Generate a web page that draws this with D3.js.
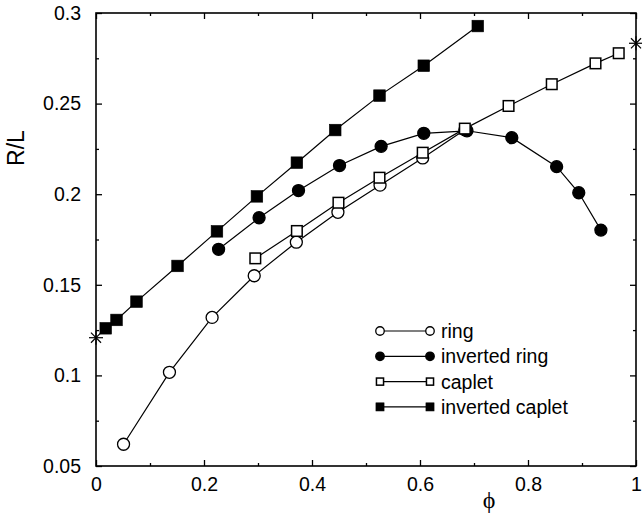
<!DOCTYPE html>
<html>
<head>
<meta charset="utf-8">
<script src="https://cdn.jsdelivr.net/npm/d3@7"></script>
<style>
  body { margin: 0; background: #fff; }
  svg { display: block; }
  .tick text { font-family: "Liberation Sans", Arial, sans-serif; }
</style>
</head>
<body>
<script>
// data
var ringPhi = [0.051, 0.136, 0.215, 0.293, 0.371, 0.448, 0.526, 0.605, 0.683];
var ringRL  = [0.062, 0.1017, 0.132, 0.155, 0.1735, 0.190, 0.205, 0.220, 0.2355];

var invRingPhi = [0.227, 0.302, 0.375, 0.451, 0.528, 0.607, 0.687, 0.770, 0.853, 0.894, 0.935];
var invRingRL  = [0.1696, 0.187, 0.202, 0.2158, 0.2264, 0.2336, 0.235, 0.2312, 0.2152, 0.2008, 0.1802];

var capletPhi = [0.295, 0.372, 0.449, 0.525, 0.605, 0.683, 0.764, 0.844, 0.925, 0.968];
var capletRL  = [0.1646, 0.1797, 0.1953, 0.2091, 0.2229, 0.2362, 0.2487, 0.2607, 0.2722, 0.2778];

var invCapletPhi = [0.018, 0.038, 0.075, 0.151, 0.224, 0.298, 0.372, 0.443, 0.525, 0.607, 0.707];
var invCapletRL  = [0.126, 0.1306, 0.1407, 0.1604, 0.1795, 0.1988, 0.2174, 0.2354, 0.2544, 0.2709, 0.2928];

var starPhi = [0, 1];
var starRL  = [0.1208, 0.2833];

var xTicks = [0, 0.2, 0.4, 0.6, 0.8, 1];
var xTickLabels = ["0", "0.2", "0.4", "0.6", "0.8", "1"];
var yTicks = [0.05, 0.1, 0.15, 0.2, 0.25, 0.3];
var yTickLabels = ["0.05", "0.1", "0.15", "0.2", "0.25", "0.3"];
var seriesNames = ["ring", "inverted ring", "caplet", "inverted caplet"];

var width = 642, height = 518;
var plotLeft = 96, plotRight = 636, plotTop = 13, plotBottom = 466;

var svg = d3.select("body").append("svg")
    .attr("width", width)
    .attr("height", height);

var xScale = d3.scaleLinear().domain([0, 1]).range([plotLeft, plotRight]);
var yScale = d3.scaleLinear().domain([0.05, 0.3]).range([plotBottom, plotTop]);

var xMinor = d3.range(1, 10, 2).map(function(d) { return d / 10; });
var yMinor = d3.range(3, 12, 2).map(function(d) { return d * 0.025; });

function styleAxis(g) {
    g.select(".domain").remove();
    g.selectAll(".tick line").attr("stroke", "#000").attr("stroke-width", 1.3);
    g.selectAll(".tick text").attr("fill", "#000").style("font-size", "19.5px");
}

// bottom axis with labels
svg.append("g")
    .attr("transform", "translate(0," + plotBottom + ")")
    .call(d3.axisBottom(xScale).tickValues(xTicks).tickSize(-6).tickPadding(11)
        .tickFormat(function(d, i) { return xTickLabels[i]; }))
    .call(styleAxis);
svg.append("g")
    .attr("transform", "translate(0," + plotBottom + ")")
    .call(d3.axisBottom(xScale).tickValues(xMinor).tickSize(-3).tickFormat(""))
    .call(styleAxis);
// top axis ticks
svg.append("g")
    .attr("transform", "translate(0," + plotTop + ")")
    .call(d3.axisTop(xScale).tickValues(xTicks).tickSize(-6).tickFormat(""))
    .call(styleAxis);
svg.append("g")
    .attr("transform", "translate(0," + plotTop + ")")
    .call(d3.axisTop(xScale).tickValues(xMinor).tickSize(-3).tickFormat(""))
    .call(styleAxis);
// left axis with labels
svg.append("g")
    .attr("transform", "translate(" + plotLeft + ",0)")
    .call(d3.axisLeft(yScale).tickValues(yTicks).tickSize(-6).tickPadding(15)
        .tickFormat(function(d, i) { return yTickLabels[i]; }))
    .call(styleAxis);
svg.append("g")
    .attr("transform", "translate(" + plotLeft + ",0)")
    .call(d3.axisLeft(yScale).tickValues(yMinor).tickSize(-3).tickFormat(""))
    .call(styleAxis);
// right axis ticks
svg.append("g")
    .attr("transform", "translate(" + plotRight + ",0)")
    .call(d3.axisRight(yScale).tickValues(yTicks).tickSize(-6).tickFormat(""))
    .call(styleAxis);
svg.append("g")
    .attr("transform", "translate(" + plotRight + ",0)")
    .call(d3.axisRight(yScale).tickValues(yMinor).tickSize(-3).tickFormat(""))
    .call(styleAxis);

// frame
svg.append("rect")
    .attr("x", plotLeft).attr("y", plotTop)
    .attr("width", plotRight - plotLeft).attr("height", plotBottom - plotTop)
    .attr("fill", "none").attr("stroke", "#000").attr("stroke-width", 1.6);

// axis titles
svg.append("text")
    .attr("transform", "translate(24,148) rotate(-90)")
    .attr("text-anchor", "middle")
    .style("font-family", "'Liberation Sans', Arial, sans-serif")
    .style("font-size", "23px")
    .text("R/L");

svg.append("text")
    .attr("x", 489).attr("y", 508)
    .attr("text-anchor", "middle")
    .style("font-family", "'Liberation Serif', 'Times New Roman', serif")
    .style("font-size", "24px")
    .text("\u03D5");

// markers
function drawMarker(g, type, x, y, s) {
    if (type === "ring" || type === "inverted ring") {
        g.append("circle")
            .attr("cx", x).attr("cy", y).attr("r", s / 2)
            .attr("fill", type === "ring" ? "#fff" : "#000")
            .attr("stroke", "#000").attr("stroke-width", 1.3);
    } else {
        var filled = type === "inverted caplet";
        var side = filled ? s - 0.4 : s - 1.4;
        g.append("rect")
            .attr("x", x - side / 2).attr("y", y - side / 2)
            .attr("width", side).attr("height", side)
            .attr("fill", filled ? "#000" : "#fff")
            .attr("stroke", "#000").attr("stroke-width", filled ? 0.6 : 1.5);
    }
}

var series = [
    { name: "ring", phi: ringPhi, rl: ringRL },
    { name: "inverted ring", phi: invRingPhi, rl: invRingRL },
    { name: "caplet", phi: capletPhi, rl: capletRL },
    { name: "inverted caplet", phi: invCapletPhi, rl: invCapletRL }
];

var line = d3.line()
    .x(function(d) { return xScale(d[0]); })
    .y(function(d) { return yScale(d[1]); });

series.forEach(function(s) {
    var pts = s.phi.map(function(p, i) { return [p, s.rl[i]]; });
    var g = svg.append("g");
    g.append("path")
        .attr("d", line(pts))
        .attr("fill", "none")
        .attr("stroke", "#000")
        .attr("stroke-width", 1.2);
    pts.forEach(function(p) {
        drawMarker(g, s.name, xScale(p[0]), yScale(p[1]), 12);
    });
});

// stars at the ends
starPhi.forEach(function(p, i) {
    var cx = xScale(p), cy = yScale(starRL[i]), r = 7;
    var sg = svg.append("g").attr("stroke", "#000").attr("stroke-width", 1.2);
    [[r, 0], [0, r], [r * 0.72, r * 0.72], [r * 0.72, -r * 0.72]].forEach(function(v) {
        sg.append("line")
            .attr("x1", cx - v[0]).attr("y1", cy - v[1])
            .attr("x2", cx + v[0]).attr("y2", cy + v[1]);
    });
});

// legend
var legend = svg.append("g");
seriesNames.forEach(function(name, i) {
    var y = 331 + i * 25.3;
    legend.append("line")
        .attr("x1", 380).attr("x2", 430)
        .attr("y1", y).attr("y2", y)
        .attr("stroke", "#000").attr("stroke-width", 1.2);
    drawMarker(legend, name, 380, y, 8.5);
    drawMarker(legend, name, 430, y, 8.5);
    legend.append("text")
        .attr("x", 441).attr("y", y)
        .attr("dy", "0.36em")
        .style("font-family", "'Liberation Sans', Arial, sans-serif")
        .style("font-size", "19.5px")
        .text(name);
});
</script>
</body>
</html>
